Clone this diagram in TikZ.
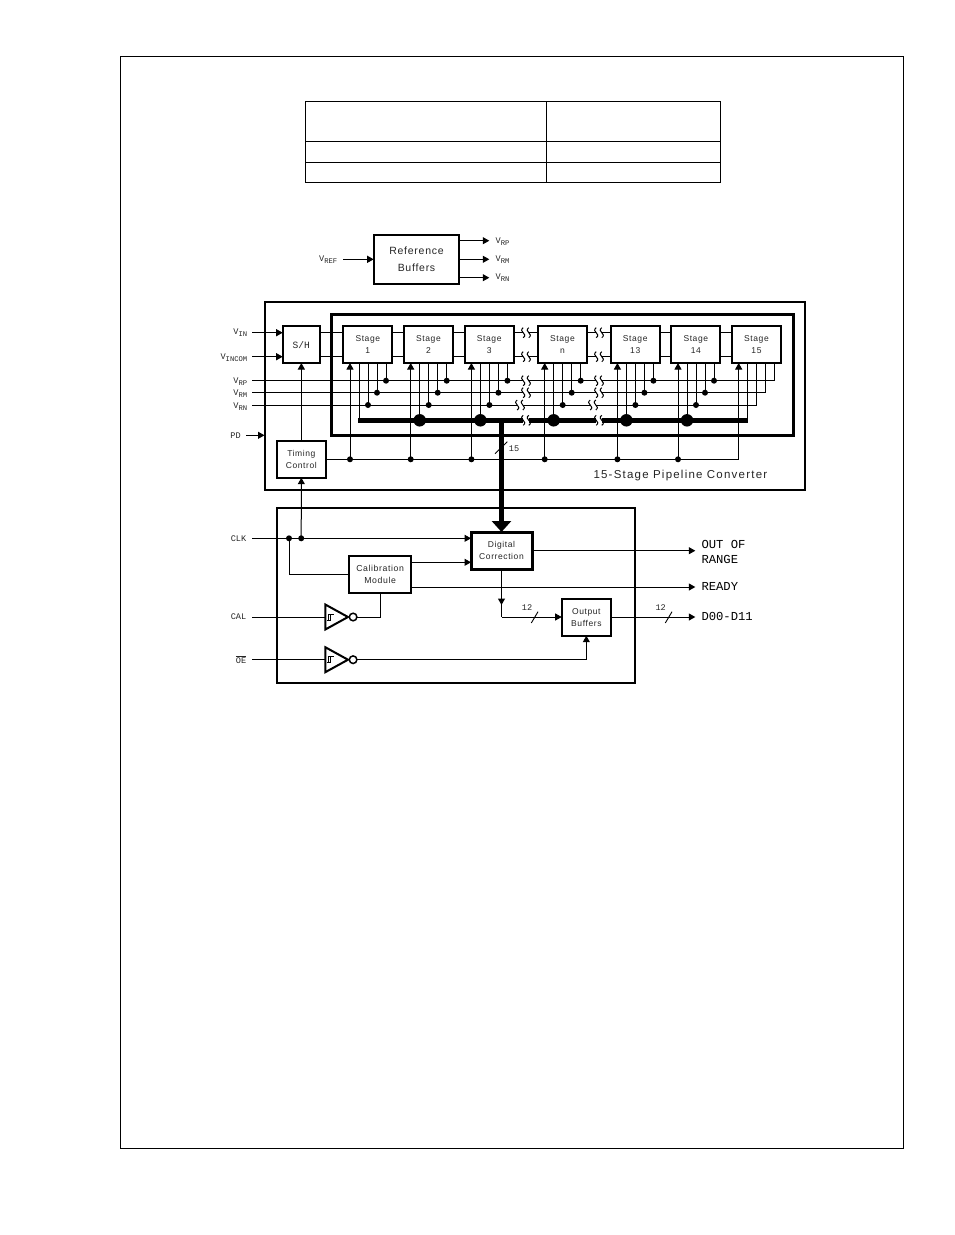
\documentclass[tikz,border=0pt]{standalone}
\usepackage{fontspec}
\setmainfont[LetterSpace=7]{Liberation Sans}
\newfontfamily\plotter{Liberation Mono}
\usetikzlibrary{arrows.meta,calc}
\tikzset{
  wire/.style={line width=1pt},
  arrowed/.style={wire,-{Triangle[length=6.5pt,width=7pt]}},
  frame/.style={draw,line width=2pt},
  heavyframe/.style={draw,line width=3pt},
  blockbox/.style={draw,fill=white,line width=2pt,inner sep=0pt,outer sep=0pt,align=center,anchor=north west,text=black!85},
  tiny label/.style={font=\fontsize{8.5}{12.2}\selectfont},
  mid label/.style={font=\fontsize{10.5}{17}\selectfont},
  pin label/.style={inner sep=0pt,anchor=east,text=black!85,font=\plotter\fontsize{8.6}{10}\selectfont},
  out label/.style={inner sep=0pt,anchor=west,align=left,text=black,font=\plotter\fontsize{12.2}{15}\selectfont},
  dot/.style={circle,fill=black,inner sep=0pt,minimum size=6pt,outer sep=0pt},
  bigdot/.style={circle,fill=black,inner sep=0pt,minimum size=12.5pt,outer sep=0pt},
  busline/.style={line width=5pt},
  railgap/.pic={
    \fill[white] (-2.8,-5) rectangle (2.8,5);
    \draw[line width=1pt] (-2.8,-5) .. controls (-8.3,-1) and (2.7,1) .. (-2.8,5);
    \draw[line width=1pt] (2.8,-5) .. controls (-2.7,-1) and (8.3,1) .. (2.8,5);
  },
  schmitt/.pic={
    \coordinate (-in) at (0,0);
    \coordinate (-out) at (32,0);
    \draw[line width=2pt,line join=miter,fill=white] (0,-12.5) -- (22.7,0) -- (0,12.5) -- cycle;
    \draw[line width=1.5pt,fill=white] (27.8,0) circle (3.8);
    \draw[line width=0.8pt] (1.5,3) -- (5,3) -- (5,-3) -- (9,-3);
    \draw[line width=0.8pt] (3.5,3) -- (3.5,-3) -- (7,-3);
  }
}
\newcommand{\vname}[1]{V\raisebox{-0.45ex}{\fontsize{7.2}{8}\selectfont #1}}
\begin{document}
\begin{tikzpicture}[x=1pt,y=-1pt]
\useasboundingbox (0,0) rectangle (954,1235);
\fill[white] (0,0) rectangle (954,1235);

% page border and the empty table
\draw[line width=1pt] (120.5,56) rectangle (903.5,1148);
\draw[line width=1pt] (305,101) rectangle (720.5,182.5);
\draw[line width=1pt] (305,141) -- (720.5,141) (305,162) -- (720.5,162) (546.5,101) -- (546.5,182.5);

% reference buffers
\node[blockbox,minimum width=85.6pt,minimum height=48.7pt,mid label] (refbuf) at (373.7,235) {Reference\\Buffers};
\coordinate (vrefIn) at (343.3,259.3);
\coordinate (refP) at (489.3,240.7);
\coordinate (refM) at (489.3,259.3);
\coordinate (refN) at (489.3,277.7);
\draw[arrowed] (vrefIn) -- (refbuf.west |- vrefIn);
\draw[arrowed] (refbuf.east |- refP) -- (refP);
\draw[arrowed] (refbuf.east |- refM) -- (refM);
\draw[arrowed] (refbuf.east |- refN) -- (refN);
\node[pin label] (lblRef) at (337.5,260) {\vname{REF}};
\node[pin label,anchor=west] (lblOutP) at (495.5,241.7) {\vname{RP}};
\node[pin label,anchor=west] (lblOutM) at (495.5,260) {\vname{RM}};
\node[pin label,anchor=west] (lblOutN) at (495.5,278) {\vname{RN}};

% converter housings
\draw[frame] (264.5,301.7) rectangle (805,489.7);
\draw[heavyframe] (331,314) rectangle (793.3,435.3);
\draw[frame] (276.7,508) rectangle (635,683.3);

% rails
\coordinate (vinIn) at (252,332.7);
\coordinate (vincomIn) at (252,356.7);
\coordinate (railP) at (252,380.7);
\coordinate (railM) at (252,392.7);
\coordinate (railN) at (252,405);
\coordinate (pdIn) at (246,435.3);
\coordinate (pdEnd) at (264.5,435.3);
\coordinate (clkIn) at (252,538.3);
\coordinate (calIn) at (252,617);
\coordinate (oeIn) at (252,659.7);

% sample and hold, timing, stages
\node[blockbox,minimum width=37pt,minimum height=36.7pt,font=\plotter\fontsize{9.6}{12}\selectfont] (sh) at (282.7,326.3) {S/H};
\node[blockbox,minimum width=49.3pt,minimum height=36.7pt,tiny label] (timing) at (276.7,441) {Timing\\Control};
\foreach \idx/\x/\t in {1/343.3/1,2/404/2,3/464.7/3,n/538/n,13/610.7/13,14/671.3/14,15/732/15}{
  \node[blockbox,minimum width=49pt,minimum height=36.7pt,tiny label] (st\idx) at (\x,326.3) {Stage\\\t};
  \coordinate (clk\idx) at (\x+6.7,459.3);
  \coordinate (bus\idx) at (\x+15.7,420.3);
  \coordinate (pinN\idx) at (\x+24.7,405);
  \coordinate (pinM\idx) at (\x+33.7,392.7);
  \coordinate (pinP\idx) at (\x+42.7,380.7);
}

% stage to stage links
\foreach \a/\b in {sh/st1,st1/st2,st2/st3,st3/stn,stn/st13,st13/st14,st14/st15}{
  \draw[wire] ([yshift=12pt]\a.east) -- ([yshift=12pt]\b.west);
  \draw[wire] ([yshift=-12pt]\a.east) -- ([yshift=-12pt]\b.west);
}
\draw[arrowed] (vinIn) -- (sh.west |- vinIn);
\draw[arrowed] (vincomIn) -- (sh.west |- vincomIn);
\draw[arrowed] (pdIn) -- (pdEnd);

% reference rails turn up into the last stage
\draw[wire] (railP) -| (st15.south -| pinP15);
\draw[wire] (railM) -| (st15.south -| pinM15);
\draw[wire] (railN) -| (st15.south -| pinN15);

% stage taps and clock feeds
\foreach \idx in {1,2,3,n,13,14,15}{
  \draw[wire] (st\idx.south -| bus\idx) -- (bus\idx);
  \draw[arrowed] (clk\idx) -- (clk\idx |- st\idx.south);
}
\foreach \idx in {1,2,3,n,13,14}{
  \draw[wire] (st\idx.south -| pinN\idx) -- (pinN\idx);
  \draw[wire] (st\idx.south -| pinM\idx) -- (pinM\idx);
  \draw[wire] (st\idx.south -| pinP\idx) -- (pinP\idx);
}
\draw[wire] (timing.east |- clk1) -- (clk15) -- (clk15 |- st15.south);
\draw[arrowed] (timing.north) -- (sh.south -| timing.north);

% residue bus
\draw[busline] ([xshift=-0.7pt]bus1) -- ([xshift=0.5pt]bus15);

% rail interruptions between stage 3, stage n and stage 13
\foreach \px in {526,599}{
  \foreach \py in {332.7,356.7,380.7,392.7,420.3}{
    \pic at (\px,\py) {railgap};
  }
  \pic at (\px-6,405) {railgap};
}

% junction dots
\foreach \idx in {1,2,3,n,13,14}{
  \node[dot] (jP\idx) at (pinP\idx) {};
  \node[dot] (jM\idx) at (pinM\idx) {};
  \node[dot] (jN\idx) at (pinN\idx) {};
  \node[dot] (jC\idx) at (clk\idx) {};
}
\foreach \idx in {2,3,n,13,14}{
  \node[bigdot] (jB\idx) at (bus\idx) {};
}

% digital section blocks
\node[blockbox,line width=3pt,minimum width=61pt,minimum height=37pt,tiny label] (dc) at (471,532) {Digital\\Correction};
\node[blockbox,minimum width=61.7pt,minimum height=37pt,font=\fontsize{8.7}{12.2}\selectfont] (calib) at (349.3,556) {Calibration\\Module};
\node[blockbox,minimum width=49.3pt,minimum height=37pt,tiny label] (outbuf) at (561.7,598.7) {Output\\Buffers};

% wide bus into the correction block
\coordinate (busTap) at (501.5,420.3);
\draw[busline,-{Triangle[length=11pt,width=19pt]}] (busTap) -- (dc.north -| busTap);
\coordinate (sl15a) at (495,453.7);
\coordinate (sl15b) at (507.3,441.7);
\draw[line width=0.9pt] (sl15a) -- (sl15b);
\node[inner sep=0pt,text=black!85,font=\plotter\fontsize{8.6}{10}\selectfont] (lbl15) at (514,448.7) {15};

% clock distribution
\coordinate (clkA) at (289,538.3);
\coordinate (clkB) at (301.2,538.3);
\draw[arrowed] (clkIn) -- (dc.west |- clkIn);
\draw[arrowed] (clkB) -- (timing.south);
\draw[wire] (clkA) |- (calib.west |- 0,574.7);
\node[dot] (jClkA) at (clkA) {};
\node[dot] (jClkB) at (clkB) {};

% calibration outputs
\coordinate (calToDc) at (411,562.3);
\coordinate (readyEnd) at (695.3,587);
\coordinate (rangeEnd) at (695.3,550.7);
\coordinate (dataEnd) at (695.3,617);
\draw[arrowed] (calib.east |- calToDc) -- (dc.west |- calToDc);
\draw[arrowed] (calib.east |- readyEnd) -- (readyEnd);
\draw[arrowed] (dc.east |- rangeEnd) -- (rangeEnd);

% schmitt inverters
\pic (invCal) at (325.3,617) {schmitt};
\pic (invOe) at (325.3,659.7) {schmitt};
\draw[wire] (calIn) -- (invCal-in);
\draw[wire] (oeIn) -- (invOe-in);
\draw[wire] (invCal-out) -| (calib.south);
\draw[arrowed] (invOe-out) -| (outbuf.south);

% corrected data path
\coordinate (dcDrop) at (501.5,617);
\draw[wire] (dc.south) -- (dcDrop);
\draw[arrowed] (dc.south) -- (501.5,605);
\draw[arrowed] (dcDrop) -- (outbuf.west |- dcDrop);
\draw[arrowed] (outbuf.east |- dataEnd) -- (dataEnd);
\coordinate (slA) at (531.3,623);
\coordinate (slB) at (538,611.7);
\coordinate (slC) at (665.3,623);
\coordinate (slD) at (672,611.7);
\draw[line width=0.9pt] (slA) -- (slB);
\draw[line width=0.9pt] (slC) -- (slD);
\node[inner sep=0pt,text=black!85,font=\plotter\fontsize{8.6}{10}\selectfont] (lbl12a) at (527,607.7) {12};
\node[inner sep=0pt,text=black!85,font=\plotter\fontsize{8.6}{10}\selectfont] (lbl12b) at (660.7,607.7) {12};

% pin names
\node[pin label] (lblVin) at (247.5,332.5) {\vname{IN}};
\node[pin label] (lblVincom) at (247.5,357.5) {\vname{INCOM}};
\node[pin label] (lblVrp) at (247.5,381.5) {\vname{RP}};
\node[pin label] (lblVrm) at (247.5,394) {\vname{RM}};
\node[pin label] (lblVrn) at (247.5,407) {\vname{RN}};
\node[pin label] (lblPd) at (241,435.3) {PD};
\node[pin label] (lblClk) at (246.5,538.3) {CLK};
\node[pin label] (lblCal) at (246.5,617) {CAL};
\node[pin label] (lblOe) at (246.5,660) {$\overline{\mbox{OE}}$};

% captions and output names
\node[inner sep=0pt,anchor=west,text=black!85,font=\addfontfeatures{LetterSpace=10.6}\fontsize{11.5}{13}\selectfont] (lblPipe) at (593.3,476) {15-Stage Pipeline Converter};
\node[out label] (lblRange) at (701.3,551.7) {OUT OF\\RANGE};
\node[out label] (lblReady) at (701.3,586) {READY};
\node[out label] (lblData) at (701.3,616) {D00-D11};
\end{tikzpicture}
\end{document}
